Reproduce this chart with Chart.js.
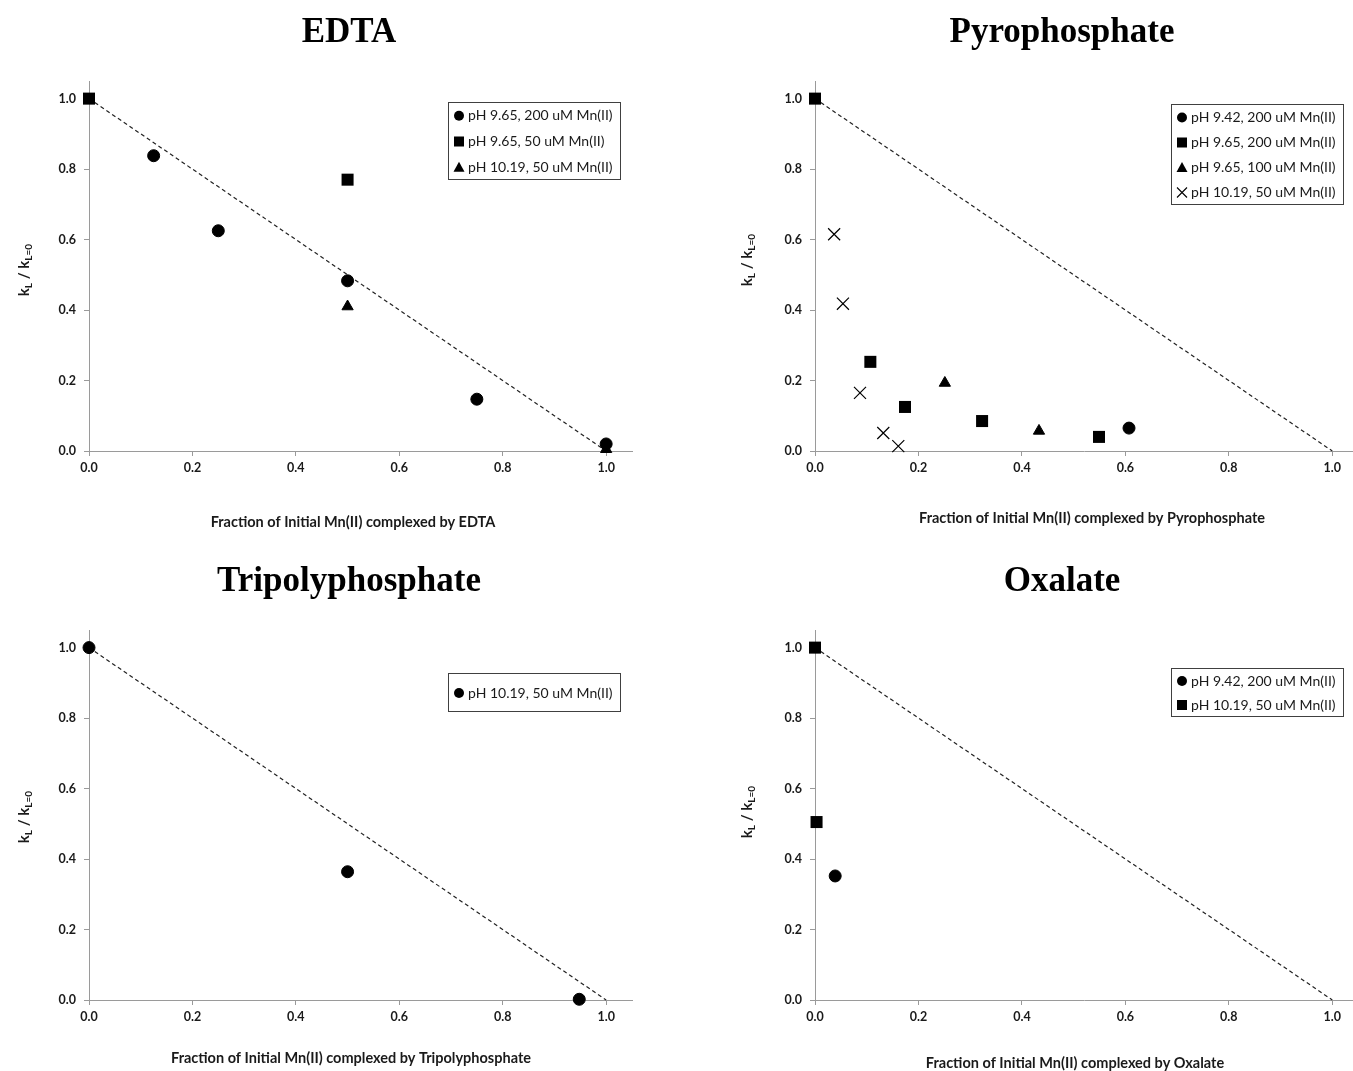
<!DOCTYPE html>
<html>
<head>
<meta charset="utf-8">
<script src="https://cdn.jsdelivr.net/npm/chart.js@4.4.1/dist/chart.umd.min.js"></script>
<style>
  body { margin: 0; background: #fff; width: 1353px; height: 1071px; position: relative; overflow: hidden; }
  .panel { position: absolute; }
</style>
</head>
<body>
<div class="panel" style="left:0;top:0;width:676px;height:535px"><canvas id="edta"></canvas></div>
<div class="panel" style="left:676px;top:0;width:677px;height:535px"><canvas id="pyro"></canvas></div>
<div class="panel" style="left:0;top:535px;width:676px;height:536px"><canvas id="tripoly"></canvas></div>
<div class="panel" style="left:676px;top:535px;width:677px;height:536px"><canvas id="oxalate"></canvas></div>
<script>
// axis ticks shared by every panel
const axisTicks = [0, 0.2, 0.4, 0.6, 0.8, 1.0];
// 1:1 reference line (kL/kL=0 = 1 - fraction)
const refLineX = [0, 1];
const refLineY = [1, 0];

// EDTA
const edtaCircleX = [0.125, 0.25, 0.5, 0.75, 1.0];
const edtaCircleY = [0.838, 0.625, 0.483, 0.147, 0.02];
const edtaSquareX = [0, 0.5];
const edtaSquareY = [1.0, 0.77];
const edtaTriX = [0.5, 1.0];
const edtaTriY = [0.41, 0.005];

// Pyrophosphate
const pyroCircleX = [0.607];
const pyroCircleY = [0.065];
const pyroSquareX = [0, 0.107, 0.174, 0.323, 0.549];
const pyroSquareY = [1.0, 0.253, 0.125, 0.085, 0.04];
const pyroTriX = [0.251, 0.433];
const pyroTriY = [0.193, 0.057];
const pyroCrossX = [0.037, 0.054, 0.087, 0.132, 0.161];
const pyroCrossY = [0.615, 0.418, 0.165, 0.051, 0.014];

// Tripolyphosphate
const tripolyCircleX = [0, 0.5, 0.948];
const tripolyCircleY = [1.0, 0.364, 0.002];

// Oxalate
const oxCircleX = [0.039];
const oxCircleY = [0.352];
const oxSquareX = [0, 0.003];
const oxSquareY = [1.0, 0.505];

const pts = (xs, ys) => xs.map((x, i) => ({ x: x, y: ys[i] }));

const MARK = {
  circle:   { pointStyle: 'circle',   pointRadius: 6,   borderWidth: 1 },
  rect:     { pointStyle: 'rect',     pointRadius: 8.5, borderWidth: 0 },
  triangle: { pointStyle: 'triangle', pointRadius: 6.5, borderWidth: 1 },
  crossRot: { pointStyle: 'crossRot', pointRadius: 8.5, borderWidth: 1.2 }
};

function series(label, xs, ys, style) {
  return Object.assign({
    label: label,
    data: pts(xs, ys),
    backgroundColor: '#000',
    borderColor: '#000',
    clip: false
  }, MARK[style]);
}

function refLine() {
  return {
    refLine: true,
    data: pts(refLineX, refLineY),
    showLine: true,
    borderColor: '#222',
    borderWidth: 1.2,
    borderDash: [4, 3],
    pointRadius: 0,
    clip: false
  };
}

// small markers for the legend box
function legendMarker(ctx, style, x, y) {
  ctx.fillStyle = '#000';
  ctx.strokeStyle = '#000';
  ctx.beginPath();
  if (style === 'circle') {
    ctx.arc(x, y, 5, 0, Math.PI * 2);
    ctx.fill();
  } else if (style === 'rect') {
    ctx.fillRect(x - 5, y - 5, 10, 10);
  } else if (style === 'triangle') {
    ctx.moveTo(x, y - 5.5);
    ctx.lineTo(x + 5.5, y + 4.5);
    ctx.lineTo(x - 5.5, y + 4.5);
    ctx.closePath();
    ctx.fill();
  } else if (style === 'crossRot') {
    ctx.lineWidth = 1.1;
    ctx.moveTo(x - 5, y - 5); ctx.lineTo(x + 5, y + 5);
    ctx.moveTo(x + 5, y - 5); ctx.lineTo(x - 5, y + 5);
    ctx.stroke();
  }
}

// titles, rotated y label with subscripts, and the boxed legend
const panelDecor = {
  id: 'panelDecor',
  afterDraw(chart, args, o) {
    const ctx = chart.ctx;
    ctx.save();

    ctx.fillStyle = '#000';
    ctx.textAlign = 'center';
    ctx.textBaseline = 'alphabetic';
    ctx.font = 'bold 35px "Liberation Serif", "Times New Roman", serif';
    ctx.fillText(o.title, o.titleX, o.titleY);

    ctx.fillStyle = '#1a1a1a';
    ctx.font = 'bold 14.5px Lato, sans-serif';
    ctx.textBaseline = 'middle';
    ctx.fillText(o.xTitle, o.xTitleX, o.xTitleY);

    // y label: k_L / k_L=0
    const parts = [['k', 15, 0], ['L', 10, 3], [' / k', 15, 0], ['L=0', 10, 3]];
    ctx.textAlign = 'left';
    ctx.textBaseline = 'alphabetic';
    let total = 0;
    parts.forEach(p => { ctx.font = 'bold ' + p[1] + 'px Lato, sans-serif'; total += ctx.measureText(p[0]).width; });
    ctx.translate(o.yTitleX, o.yTitleY);
    ctx.rotate(-Math.PI / 2);
    let cx = -total / 2;
    parts.forEach(p => {
      ctx.font = 'bold ' + p[1] + 'px Lato, sans-serif';
      ctx.fillText(p[0], cx, p[2]);
      cx += ctx.measureText(p[0]).width;
    });
    ctx.setTransform(1, 0, 0, 1, 0, 0);

    // legend
    const items = chart.data.datasets.filter(d => !d.refLine);
    ctx.font = '14px Lato, sans-serif';
    const tw = Math.max.apply(null, items.map(d => ctx.measureText(d.label).width));
    const w = Math.round(20 + tw + 7);
    const h = o.legendH;
    const left = o.legendRight - w;
    const top = o.legendTop;
    ctx.fillStyle = '#fff';
    ctx.fillRect(left, top, w, h);
    ctx.strokeStyle = '#404040';
    ctx.lineWidth = 1;
    ctx.strokeRect(left + 0.5, top + 0.5, w, h);
    items.forEach((d, i) => {
      const cy = top + (i + 0.5) * h / items.length + 1;
      legendMarker(ctx, d.pointStyle, left + 11, cy);
      ctx.fillStyle = '#1a1a1a';
      ctx.font = '14px Lato, sans-serif';
      ctx.textAlign = 'left';
      ctx.textBaseline = 'middle';
      ctx.fillText(d.label, left + 20, cy);
    });

    ctx.restore();
  }
};

function axis(max, size, horizontal) {
  return {
    type: 'linear',
    min: 0,
    max: max,
    afterBuildTicks: s => { s.ticks = axisTicks.map(v => ({ value: v })); },
    afterFit: s => { if (horizontal) { s.height = size; } else { s.width = size; } },
    ticks: {
      callback: v => v.toFixed(1),
      font: { family: 'Lato, sans-serif', size: 12.5, weight: 'bold' },
      color: '#1a1a1a',
      padding: horizontal ? 4 : 8,
      maxRotation: 0,
      autoSkip: false
    },
    grid: { display: true, drawOnChartArea: false, drawTicks: true, tickLength: 5, color: '#9a9a9a' },
    border: { display: true, color: '#9a9a9a', width: 1 }
  };
}

function makePanel(id, datasets, p) {
  new Chart(document.getElementById(id), {
    type: 'scatter',
    data: { datasets: datasets.concat([refLine()]) },
    options: {
      responsive: true,
      maintainAspectRatio: false,
      animation: false,
      events: [],
      layout: { autoPadding: false, padding: { top: p.padTop, right: p.padRight, left: 0, bottom: 0 } },
      scales: {
        x: axis(p.xMax, p.xH, true),
        y: axis(1.05, p.yW, false)
      },
      plugins: {
        legend: { display: false },
        title: { display: false },
        tooltip: { enabled: false },
        panelDecor: p.decor
      }
    },
    plugins: [panelDecor]
  });
}

makePanel('edta', [
  series('pH 9.65, 200 uM Mn(II)', edtaCircleX, edtaCircleY, 'circle'),
  series('pH 9.65, 50 uM Mn(II)', edtaSquareX, edtaSquareY, 'rect'),
  series('pH 10.19, 50 uM Mn(II)', edtaTriX, edtaTriY, 'triangle')
], {
  padTop: 81, padRight: 44, xMax: 1.05, xH: 84, yW: 89,
  decor: { title: 'EDTA', titleX: 349, titleY: 42,
    xTitle: 'Fraction of Initial Mn(II) complexed by EDTA', xTitleX: 353, xTitleY: 522,
    yTitleX: 29, yTitleY: 270, legendRight: 620, legendTop: 102, legendH: 77 }
});

makePanel('pyro', [
  series('pH 9.42, 200 uM Mn(II)', pyroCircleX, pyroCircleY, 'circle'),
  series('pH 9.65, 200 uM Mn(II)', pyroSquareX, pyroSquareY, 'rect'),
  series('pH 9.65, 100 uM Mn(II)', pyroTriX, pyroTriY, 'triangle'),
  series('pH 10.19, 50 uM Mn(II)', pyroCrossX, pyroCrossY, 'crossRot')
], {
  padTop: 81, padRight: 0, xMax: 1.04, xH: 84, yW: 139,
  decor: { title: 'Pyrophosphate', titleX: 386, titleY: 42,
    xTitle: 'Fraction of Initial Mn(II) complexed by Pyrophosphate', xTitleX: 416, xTitleY: 518,
    yTitleX: 76, yTitleY: 260, legendRight: 667, legendTop: 104, legendH: 100 }
});

makePanel('tripoly', [
  series('pH 10.19, 50 uM Mn(II)', tripolyCircleX, tripolyCircleY, 'circle')
], {
  padTop: 95, padRight: 44, xMax: 1.05, xH: 71, yW: 89,
  decor: { title: 'Tripolyphosphate', titleX: 349, titleY: 56,
    xTitle: 'Fraction of Initial Mn(II) complexed by Tripolyphosphate', xTitleX: 351, xTitleY: 523,
    yTitleX: 29, yTitleY: 282, legendRight: 620, legendTop: 138, legendH: 38 }
});

makePanel('oxalate', [
  series('pH 9.42, 200 uM Mn(II)', oxCircleX, oxCircleY, 'circle'),
  series('pH 10.19, 50 uM Mn(II)', oxSquareX, oxSquareY, 'rect')
], {
  padTop: 95, padRight: 0, xMax: 1.04, xH: 71, yW: 139,
  decor: { title: 'Oxalate', titleX: 386, titleY: 56,
    xTitle: 'Fraction of Initial Mn(II) complexed by Oxalate', xTitleX: 399, xTitleY: 528,
    yTitleX: 76, yTitleY: 277, legendRight: 667, legendTop: 133, legendH: 48 }
});
</script>
</body>
</html>
